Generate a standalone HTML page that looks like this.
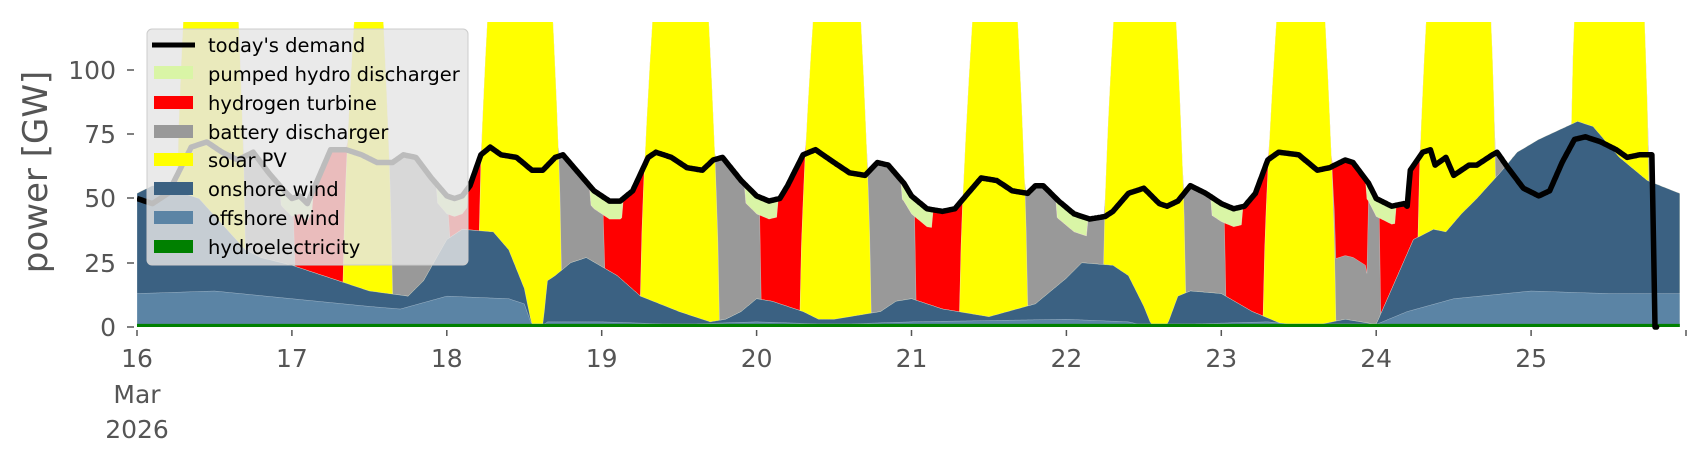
<!DOCTYPE html>
<html><head><meta charset="utf-8">
<style>
html,body{margin:0;padding:0;background:#fff;}
svg{display:block;font-family:"DejaVu Sans","Liberation Sans",sans-serif;}
</style></head>
<body>
<svg id="s" width="1706" height="460" viewBox="0 0 1706 460" xmlns="http://www.w3.org/2000/svg">
<defs><clipPath id="cp"><rect x="137" y="22" width="1550" height="310"/></clipPath></defs>
<g id="plot" clip-path="url(#cp)"></g>
<g id="axes" fill="#555" font-size="25">
<text x="116" y="336" text-anchor="end">0</text>
<text x="116" y="272" text-anchor="end">25</text>
<text x="116" y="207" text-anchor="end">50</text>
<text x="116" y="143" text-anchor="end">75</text>
<text x="116" y="79" text-anchor="end">100</text>
<g stroke="#555" stroke-width="1.5">
<line x1="127" y1="327" x2="134" y2="327"/><line x1="127" y1="263" x2="134" y2="263"/>
<line x1="127" y1="198" x2="134" y2="198"/><line x1="127" y1="134" x2="134" y2="134"/>
<line x1="127" y1="70" x2="134" y2="70"/>
</g>
<text transform="translate(47,172) rotate(-90)" text-anchor="middle" font-size="34">power [GW]</text>
<g id="xt" text-anchor="middle"></g>
</g>
<g id="legend">
<rect x="147" y="29" width="321" height="236" rx="5" fill="#e5e5e5" fill-opacity="0.82" stroke="#cccccc" stroke-width="1"/>
<line x1="152" y1="45" x2="195" y2="45" stroke="#000" stroke-width="5"/>
<rect x="154" y="66" width="39" height="13" fill="#d9f5a6"/>
<rect x="154" y="96" width="39" height="13" fill="#ff0000"/>
<rect x="154" y="125" width="39" height="13" fill="#999999"/>
<rect x="154" y="153" width="39" height="13" fill="#ffff00"/>
<rect x="154" y="182" width="39" height="13" fill="#3b6182"/>
<rect x="154" y="211" width="39" height="13" fill="#5b84a5"/>
<rect x="154" y="240" width="39" height="13" fill="#008000"/>
<g font-size="19.5" fill="#000">
<text x="208" y="52">today's demand</text>
<text x="208" y="81">pumped hydro discharger</text>
<text x="208" y="110">hydrogen turbine</text>
<text x="208" y="139">battery discharger</text>
<text x="208" y="167">solar PV</text>
<text x="208" y="196">onshore wind</text>
<text x="208" y="225">offshore wind</text>
<text x="208" y="254">hydroelectricity</text>
</g>
</g>
</svg>
<script>
const X=t=>137+t*154.9, Y=v=>327-v*2.57;
function interp(k,t){if(t<=k[0][0])return k[0][1];for(let i=1;i<k.length;i++){if(t<=k[i][0]){const a=k[i-1],b=k[i];return a[1]+(b[1]-a[1])*(t-a[0])/(b[0]-a[0]);}}return k[k.length-1][1];}
const D=[[0,50],[0.1,48],[0.2,52],[0.3,64],[0.35,70],[0.45,72],[0.55,68],[0.65,65],[0.75,68],[0.85,60],[0.95,53],[1.0,50],[1.05,51],[1.1,48],[1.15,55],[1.25,69],[1.35,69],[1.45,67],[1.55,64],[1.65,64],[1.72,67],[1.8,66],[1.9,58],[2.0,51],[2.05,50],[2.1,51],[2.15,55],[2.22,67],[2.28,70],[2.35,67],[2.45,66],[2.55,61],[2.62,61],[2.7,66],[2.75,67],[2.85,60],[2.95,53],[3.05,49],[3.12,49],[3.2,53],[3.3,66],[3.35,68],[3.45,66],[3.55,62],[3.65,61],[3.72,65],[3.78,66],[3.9,57],[4.0,51],[4.08,49],[4.15,50],[4.2,55],[4.3,67],[4.38,69],[4.5,64],[4.6,60],[4.7,59],[4.78,64],[4.85,63],[4.95,56],[5.0,51],[5.1,46],[5.2,45],[5.28,46],[5.35,51],[5.45,58],[5.55,57],[5.65,53],[5.75,52],[5.8,55],[5.85,55],[5.95,49],[6.05,44],[6.15,42],[6.25,43],[6.3,45],[6.4,52],[6.5,54],[6.6,48],[6.65,47],[6.72,49],[6.8,55],[6.9,52],[7.0,48],[7.08,46],[7.15,47],[7.22,52],[7.3,65],[7.37,68],[7.5,67],[7.62,61],[7.7,62],[7.8,65],[7.85,64],[7.95,56],[8.0,50],[8.1,47],[8.18,48],[8.2,47],[8.22,61],[8.3,68],[8.35,69],[8.38,63],[8.45,66],[8.5,59],[8.55,61],[8.6,63],[8.65,63],[8.75,67],[8.78,68],[8.85,62],[8.95,54],[9.05,51],[9.12,53],[9.2,64],[9.28,73],[9.35,74],[9.45,72],[9.55,69],[9.62,66],[9.7,67],[9.78,67],[9.8,0],[10,0]];
const OFF=[[0,13],[0.5,14],[1.0,11],[1.5,8],[1.7,7],[2.0,12],[2.4,11],[2.5,9],[2.55,0.6],[2.62,0.6],[2.65,2],[3,2],[3.5,1],[4,2],[4.5,1],[5,2],[6,3],[6.4,2],[6.5,0.6],[6.7,1],[7.3,2],[7.5,0.8],[8.0,1],[8.2,6],[8.5,11],[9.0,14],[9.5,13],[10,13]];
const ON=[[0,52],[0.1,55],[0.2,54],[0.4,50],[0.55,40],[0.7,30],[0.8,27],[1.0,24],[1.2,20],[1.5,14],[1.75,12],[1.85,18],[2.0,34],[2.1,38],[2.3,37],[2.4,30],[2.5,15],[2.55,0.6],[2.62,0.6],[2.65,18],[2.7,20],[2.8,25],[2.9,27],[3.1,20],[3.25,12],[3.5,6],[3.7,2],[3.8,3],[3.9,6],[4.0,11],[4.1,10],[4.2,8],[4.3,6],[4.4,3],[4.5,3],[4.6,4],[4.8,6],[4.9,10],[5.0,11],[5.1,9],[5.2,7],[5.3,6],[5.5,4],[5.8,9],[6.0,19],[6.1,25],[6.3,24],[6.4,20],[6.5,8],[6.55,0.6],[6.65,0.6],[6.72,12],[6.8,14],[7.0,13],[7.2,6],[7.4,1],[7.6,0.6],[7.8,3],[8.0,1],[8.24,34],[8.37,38],[8.45,37],[8.55,44],[8.65,50],[8.8,60],[8.91,68],[9.05,73],[9.3,80],[9.4,78],[9.57,66],[9.75,57],[10,51]];
const tops=[[0.36,0.62],[1.43,1.57],[2.31,2.66],[3.35,3.68],[4.38,4.66],[5.41,5.67],[6.34,6.69],[7.37,7.66],[8.37,8.69],[9.36,9.68]];
function S(t){for(const [a,b] of tops){const l=a-0.1,r=b+0.08;if(t>l&&t<r){if(t<a)return 130*Math.pow((t-l)/(a-l),0.7);if(t<=b)return 130;return 130*Math.pow((r-t)/(r-b),0.7);}}return 0;}
const N=996,pts=[];
for(let i=0;i<=N;i++){const t=i/100;const hy=1.2;let off=Math.max(hy,interp(OFF,t));let on=Math.max(off,interp(ON,t));let sol=on+S(t);const d=interp(D,t);let gap=t<9.79?Math.max(0,d-sol):0;const p=t-Math.floor(t),day=Math.floor(t);let phs=0,h2=0,bat=0;if(p>=0.93||p<0.13)phs=Math.min(gap,7);let rest=gap-phs;if(p>=0.02&&p<0.5&&day!==6){h2=rest;}else{bat=rest;if(t>7.7&&t<7.95){h2=rest*0.6;bat=rest*0.4;}}const b=sol+bat,h=b+h2,ph=h+phs;pts.push({t,hy,off,on,sol,b,h,ph});}
function area(key,col){let s="M"+X(0)+","+Y(0);for(const q of pts)s+=" L"+X(q.t).toFixed(1)+","+Y(q[key]).toFixed(1);s+=" L"+X(pts[pts.length-1].t).toFixed(1)+","+Y(0)+" Z";return `<path d="${s}" fill="${col}" stroke="#fff" stroke-width="0.4" stroke-opacity="0.6"/>`;}
let h="";h+=area("ph","#d9f5a6");h+=area("h","#ff0000");h+=area("b","#999999");h+=area("sol","#ffff00");h+=area("on","#3b6182");h+=area("off","#5b84a5");h+=`<path d="${(()=>{let s="M"+X(0)+","+Y(0);for(const q of pts)s+=" L"+X(q.t).toFixed(1)+","+Y(q.hy).toFixed(1);return s+" L"+X(9.96)+","+Y(0)+" Z";})()}" fill="#008000"/>`;
let dl="";for(let i=0;i<=981;i++){const t=i/100;dl+=(i?" L":"M")+X(t).toFixed(1)+","+Y(interp(D,t)).toFixed(1);}dl+=" L"+X(9.81)+","+Y(0);
h+=`<path d="${dl}" fill="none" stroke="#000" stroke-width="5.5" stroke-linejoin="round"/>`;
document.getElementById("plot").innerHTML=h;
let xt="";for(let d=0;d<=10;d++){const x=X(d);xt+=`<line x1="${x}" y1="330" x2="${x}" y2="336" stroke="#555" stroke-width="1.5"/>`;if(d<10)xt+=`<text x="${x}" y="367">${16+d}</text>`;}
xt+=`<text x="${X(0)}" y="403">Mar</text><text x="${X(0)}" y="438">2026</text>`;
document.getElementById("xt").innerHTML=xt;
</script>
</body></html>
